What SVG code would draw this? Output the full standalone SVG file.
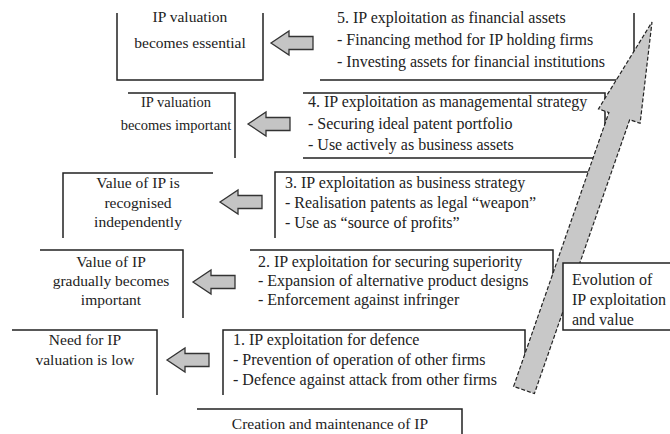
<svg xmlns="http://www.w3.org/2000/svg" width="670" height="434" viewBox="0 0 670 434">
<style>
text{font-size:16px;fill:#222}
.c{text-anchor:middle;font-size:15.5px}
.s{font-size:14.5px}
.ln{fill:none;stroke:#222;stroke-width:1.5}
.bx{fill:#fff;stroke:#222;stroke-width:1.5}
.ba{fill:#c4c4c4;stroke:#333;stroke-width:1.3}
.big{fill:#c8c8c8;stroke:#222;stroke-width:1.2;stroke-dasharray:4 2}
</style>
<defs>
<path id="la" d="M0,0 L18,-12 L18,-6.5 L42,-6.5 L42,6.5 L18,6.5 L18,12 Z"/>
</defs>
<rect width="670" height="434" fill="#fff"/>
<g font-family="Liberation Serif, Times New Roman, serif">
<g id="essential">
<path class="ln" d="M117,13 V80 H263 V13"/>
<text class="c" x="190" y="22">IP valuation</text>
<text class="c" x="190" y="48">becomes essential</text>
</g>
<g id="stage5">
<path class="ln" d="M320,80 H620 M634,13 V60"/>
<text x="337" y="23">5. IP exploitation as financial assets</text>
<text x="337" y="45">- Financing method for IP holding firms</text>
<text x="337" y="67">- Investing assets for financial institutions</text>
</g>

<g id="important">
<path class="ln" d="M128,93 H235 V158"/>
<text class="c s" x="176" y="107">IP valuation</text>
<text class="c s" x="176" y="130">becomes important</text>
</g>
<g id="stage4">
<path class="ln" d="M303,93 H605 V158 H303"/>
<text x="308" y="107">4. IP exploitation as managemental strategy</text>
<text x="308" y="129">- Securing ideal patent portfolio</text>
<text x="308" y="150">- Use actively as business assets</text>
</g>

<g id="recognised">
<path class="ln" d="M63,238 V173 H213"/>
<text class="c" x="138" y="188">Value of IP is</text>
<text class="c" x="138" y="208">recognised</text>
<text class="c" x="138" y="227">independently</text>
</g>
<g id="stage3">
<path class="ln" d="M275,238 V172 H600"/>
<text x="285" y="188">3. IP exploitation as business strategy</text>
<text x="285" y="208">- Realisation patents as legal “weapon”</text>
<text x="285" y="228">- Use as “source of profits”</text>
</g>

<g id="gradually">
<path class="ln" d="M40,250 H183 V318"/>
<text class="c" x="111" y="267">Value of IP</text>
<text class="c" x="111" y="286">gradually becomes</text>
<text class="c" x="111" y="305">important</text>
</g>
<g id="stage2">
<path class="ln" d="M250,250 H553 V290"/>
<text x="258" y="267">2. IP exploitation for securing superiority</text>
<text x="258" y="286">- Expansion of alternative product designs</text>
<text x="258" y="305">- Enforcement against infringer</text>
</g>

<g id="low">
<path class="ln" d="M12,330 H157 V395"/>
<text class="c" x="85" y="345">Need for IP</text>
<text class="c" x="85" y="365">valuation is low</text>
</g>
<g id="stage1">
<path class="ln" d="M223,395 V330 H525 V380"/>
<text x="233" y="345">1. IP exploitation for defence</text>
<text x="233" y="365">- Prevention of operation of other firms</text>
<text x="233" y="385">- Defence against attack from other firms</text>
</g>

<g id="creation">
<path class="ln" d="M197,409 H462 V434"/>
<text class="c" x="330" y="429">Creation and maintenance of IP</text>
</g>

<g id="connectors">
<use href="#la" class="ba" x="271" y="43"/>
<use href="#la" class="ba" x="248" y="124"/>
<use href="#la" class="ba" x="220" y="202"/>
<use href="#la" class="ba" x="193" y="282"/>
<use href="#la" class="ba" x="167" y="360"/>
<path id="evolution-arrow" class="big" d="M513.6,386.4 L608.9,112.5 L598.5,108.9 L652,22 L640.1,123.3 L629.7,119.7 L534.4,393.6 Z"/>
</g>

<g id="evolution">
<rect class="bx" x="563" y="263" width="120" height="67"/>
<text x="572" y="285">Evolution of</text>
<text x="572" y="305">IP  exploitation</text>
<text x="572" y="325">and value</text>
</g>
</g>
</svg>
